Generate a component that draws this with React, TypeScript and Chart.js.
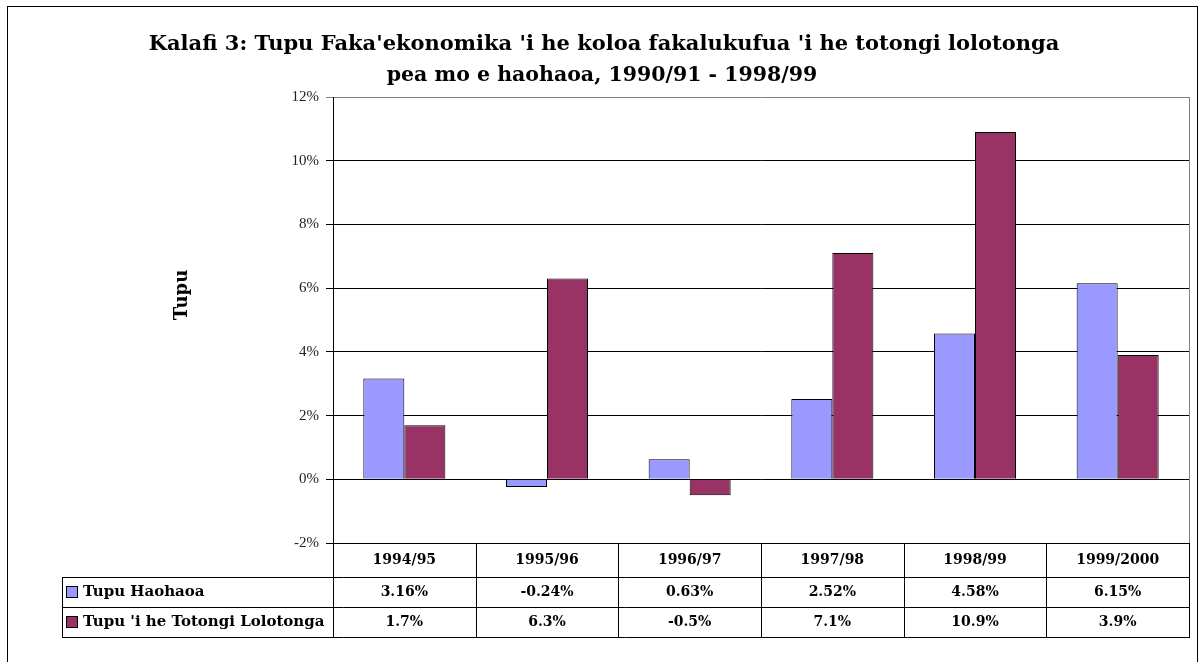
import React, { useEffect, useRef } from 'react';
import { Chart, registerables } from 'chart.js';

Chart.register(...registerables);

const categories = ['1994/95', '1995/96', '1996/97', '1997/98', '1998/99', '1999/2000'];
const haohaoa = [3.16, -0.24, 0.63, 2.52, 4.58, 6.15];
const totongi = [1.7, 6.3, -0.5, 7.1, 10.9, 3.9];
const haohaoaLabels = ['3.16%', '-0.24%', '0.63%', '2.52%', '4.58%', '6.15%'];
const totongiLabels = ['1.7%', '6.3%', '-0.5%', '7.1%', '10.9%', '3.9%'];
const seriesNames = ['Tupu Haohaoa', "Tupu 'i he Totongi Lolotonga"];
const titleLines = [
  "Kalafi 3: Tupu Faka'ekonomika 'i he koloa fakalukufua 'i he totongi lolotonga",
  'pea mo e haohaoa, 1990/91 - 1998/99',
];
const yTitle = 'Tupu';
const yMin = -2;
const yMax = 12;
const yStep = 2;
const seriesColors = ['#9999FF', '#993366'];

const SERIF = '"Liberation Serif", "Times New Roman", serif';
const WIDE = '"DejaVu Serif", serif';

function hline(ctx: CanvasRenderingContext2D, x1: number, x2: number, y: number) {
  ctx.beginPath();
  ctx.moveTo(x1, Math.round(y) + 0.5);
  ctx.lineTo(x2, Math.round(y) + 0.5);
  ctx.stroke();
}
function vline(ctx: CanvasRenderingContext2D, x: number, y1: number, y2: number) {
  ctx.beginPath();
  ctx.moveTo(Math.round(x) + 0.5, y1);
  ctx.lineTo(Math.round(x) + 0.5, y2);
  ctx.stroke();
}

const decor = {
  id: 'decor',
  beforeDraw(chart: any) {
    const ctx = chart.ctx as CanvasRenderingContext2D;
    ctx.save();
    ctx.fillStyle = '#fff';
    ctx.fillRect(0, 0, chart.width, chart.height);
    ctx.strokeStyle = '#000';
    ctx.lineWidth = 1;
    ctx.strokeRect(7.5, 6.5, 1190, 700);
    ctx.restore();
  },
  afterDraw(chart: any) {
    const ctx = chart.ctx as CanvasRenderingContext2D;
    const a = chart.chartArea;
    const xs = chart.scales.x;
    ctx.save();
    ctx.fillStyle = '#000';
    ctx.textAlign = 'center';
    ctx.textBaseline = 'middle';
    ctx.font = `bold 21px ${WIDE}`;
    ctx.fillText(titleLines[0], 604, 45);
    ctx.font = `bold 20.5px ${WIDE}`;
    ctx.fillText(titleLines[1], 602, 76);

    ctx.save();
    ctx.translate(182, 295);
    ctx.rotate(-Math.PI / 2);
    ctx.font = `bold 18px ${WIDE}`;
    ctx.fillText(yTitle, 0, 0);
    ctx.restore();

    ctx.lineWidth = 1;
    ctx.strokeStyle = '#808080';
    vline(ctx, a.right, a.top, a.bottom);

    // data table
    const catW = (a.right - a.left) / categories.length;
    const rowTop = a.bottom;
    const r1 = rowTop + 34;
    const r2 = r1 + 30;
    const r3 = r2 + 30;
    const legLeft = 62;
    ctx.strokeStyle = '#000';
    hline(ctx, a.left, a.right, rowTop);
    hline(ctx, legLeft, a.right, r1);
    hline(ctx, legLeft, a.right, r2);
    hline(ctx, legLeft, a.right, r3);
    vline(ctx, legLeft, r1, r3 + 1);
    vline(ctx, a.left, rowTop, r3 + 1);
    ctx.font = `bold 14px ${WIDE}`;
    for (let i = 0; i < categories.length; i++) {
      const cx = xs.getPixelForValue(i);
      vline(ctx, cx + catW / 2, rowTop, r3 + 1);
      ctx.fillText(categories[i], cx, (rowTop + r1) / 2);
      ctx.fillText(haohaoaLabels[i], cx, (r1 + r2) / 2);
      ctx.fillText(totongiLabels[i], cx, (r2 + r3) / 2);
    }
    // legend keys
    const rows = [[r1, r2], [r2, r3]];
    ctx.textAlign = 'left';
    for (let s = 0; s < 2; s++) {
      const my = (rows[s][0] + rows[s][1]) / 2;
      ctx.fillStyle = seriesColors[s];
      ctx.fillRect(66, my - 6, 12, 12);
      ctx.strokeStyle = '#000';
      ctx.strokeRect(66.5, my - 5.5, 11, 11);
      ctx.fillStyle = '#000';
      ctx.font = `bold 15px ${WIDE}`;
      ctx.fillText(seriesNames[s], 83, my);
    }
    ctx.restore();
  },
};

export default function App() {
  const ref = useRef<HTMLCanvasElement>(null);
  useEffect(() => {
    const chart = new Chart(ref.current!, {
      type: 'bar',
      data: {
        labels: categories,
        datasets: [
          {
            label: seriesNames[0],
            data: haohaoa,
            backgroundColor: seriesColors[0],
            borderColor: '#000',
            borderWidth: 1,
            categoryPercentage: 0.575,
            barPercentage: 1,
          },
          {
            label: seriesNames[1],
            data: totongi,
            backgroundColor: seriesColors[1],
            borderColor: '#000',
            borderWidth: 1,
            categoryPercentage: 0.575,
            barPercentage: 1,
          },
        ],
      },
      options: {
        responsive: false,
        animation: false,
        devicePixelRatio: 1,
        layout: { padding: { left: 0, right: 15, top: 97, bottom: 119 } },
        plugins: { legend: { display: false }, title: { display: false }, tooltip: { enabled: false } },
        scales: {
          x: { display: false },
          y: {
            min: yMin,
            max: yMax,
            afterFit: (s: any) => {
              s.width = 333;
            },
            ticks: {
              stepSize: yStep,
              padding: 7,
              color: '#222',
              font: { family: SERIF, size: 15 },
              callback: (v: any) => `${v}%`,
            },
            grid: {
              color: (c: any) => (c.tick && c.tick.value === yMax ? '#808080' : '#000'),
              lineWidth: 1,
              tickLength: 7,
              drawTicks: true,
            },
            border: { color: '#000', width: 1 },
          },
        },
      },
      plugins: [decor],
    });
    return () => chart.destroy();
  }, []);
  return (
    <div style={{ position: 'fixed', left: 0, top: 0, width: 1204, height: 662, background: '#fff' }}>
      <canvas ref={ref} width={1204} height={662} />
    </div>
  );
}
